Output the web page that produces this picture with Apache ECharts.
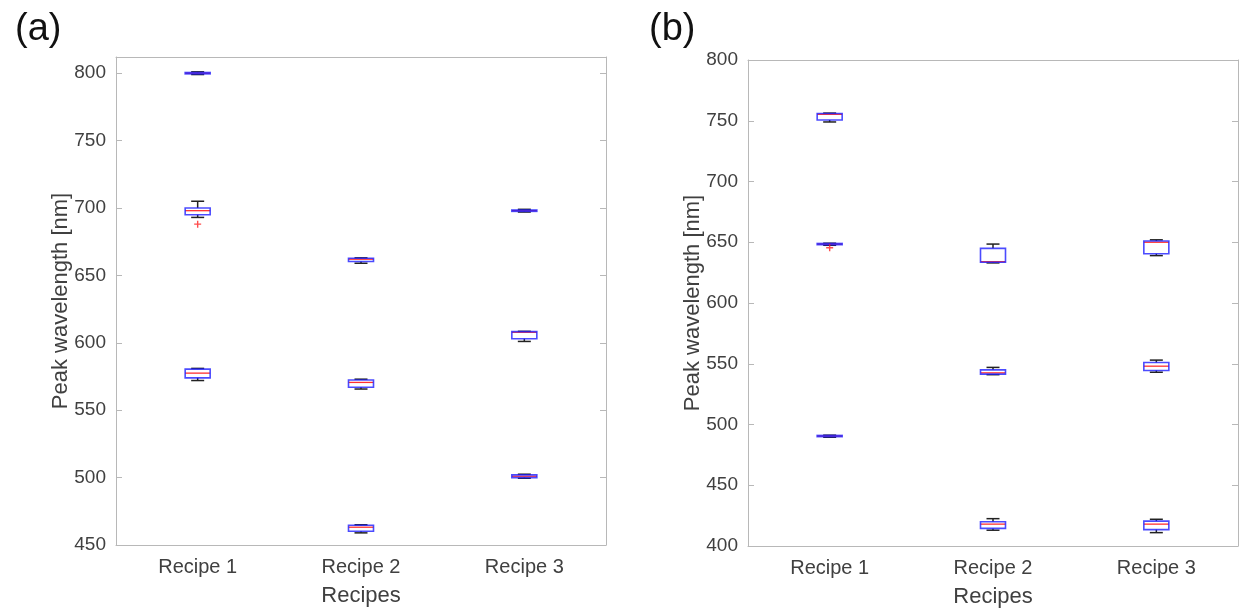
<!DOCTYPE html>
<html>
<head>
<meta charset="utf-8">
<script src="https://cdn.jsdelivr.net/npm/echarts@6/dist/echarts.min.js"></script>
<style>
  html, body { margin: 0; padding: 0; background: #fff; }
  #main { width: 1244px; height: 611px; }
</style>
</head>
<body>
<div id="main"></div>
<script>
// categories on the x axis
const categories = ['Recipe 1', 'Recipe 2', 'Recipe 3']

// panel (a): [category, min, q1, median, q3, max]
const boxesA = [
  [0, 799, 799.5, 800, 800.5, 801],
  [0, 693, 695, 698, 700, 705],
  [0, 572, 574, 577.5, 580.5, 581],
  [1, 659, 660.3, 662, 662.7, 663],
  [1, 565.7, 567, 570.6, 572.4, 573],
  [1, 459, 460.2, 463.2, 464.6, 465],
  [2, 697, 697.5, 698, 698.5, 699],
  [2, 601, 603, 607.8, 608.3, 608.5],
  [2, 499.5, 500, 501, 502, 502.5]
]
const outliersA = [[0, 688]]

// panel (b)
const boxesB = [
  [0, 749, 750.6, 755.3, 756, 756.3],
  [0, 647.5, 648, 648.5, 649, 649.2],
  [0, 489.5, 490, 490.5, 491, 491.2],
  [1, 633, 633.5, 634, 645, 648.5],
  [1, 541, 541.5, 542.5, 545, 547],
  [1, 413, 414.5, 418, 420, 422.5],
  [2, 639, 640.5, 650, 651, 652],
  [2, 543, 544.5, 548, 551, 553],
  [2, 411, 413.5, 418, 420.5, 422]
]
const outliersB = [[0, 645.5]]

const frameColor = '#b8b8b8'
const textColor = '#404040'
const font = 'Liberation Sans, Arial, sans-serif'

// draw one matlab-like box with the axes' own coords
function renderBox(params, api) {
  const x = api.value(0)
  const lo = api.coord([x, api.value(1)])
  const q1 = api.coord([x, api.value(2)])
  const med = api.coord([x, api.value(3)])
  const q3 = api.coord([x, api.value(4)])
  const hi = api.coord([x, api.value(5)])
  const cx = lo[0]
  const half = 12.5
  const cap = 6.5
  const black = { stroke: '#222', lineWidth: 1.5 }
  return {
    type: 'group',
    children: [
      { type: 'line', shape: { x1: cx, y1: hi[1], x2: cx, y2: q3[1] }, style: black },
      { type: 'line', shape: { x1: cx, y1: q1[1], x2: cx, y2: lo[1] }, style: black },
      { type: 'line', shape: { x1: cx - cap, y1: hi[1], x2: cx + cap, y2: hi[1] }, style: black },
      { type: 'line', shape: { x1: cx - cap, y1: lo[1], x2: cx + cap, y2: lo[1] }, style: black },
      {
        type: 'line',
        shape: { x1: cx - half, y1: med[1], x2: cx + half, y2: med[1] },
        style: { stroke: '#ff3030', lineWidth: 1.3 }
      },
      {
        type: 'rect',
        shape: { x: cx - half, y: q3[1], width: half * 2, height: Math.max(q1[1] - q3[1], 0.5) },
        style: { fill: 'rgba(255,255,255,0)', stroke: 'rgba(30,30,255,0.8)', lineWidth: 1.6 }
      }
    ]
  }
}

function xAxes(gridIndex) {
  return [
    {
      type: 'category',
      gridIndex: gridIndex,
      data: categories,
      name: 'Recipes',
      nameLocation: 'middle',
      nameGap: 40,
      nameTextStyle: { color: textColor, fontSize: 22, fontFamily: font },
      axisLine: { show: true, lineStyle: { color: frameColor } },
      axisTick: { inside: true, length: 6, alignWithLabel: true, lineStyle: { color: frameColor } },
      axisLabel: { color: textColor, fontSize: 20, fontFamily: font, margin: 12 },
      splitLine: { show: false }
    },
    {
      type: 'category',
      gridIndex: gridIndex,
      position: 'top',
      data: categories,
      axisLine: { show: true, lineStyle: { color: frameColor } },
      axisTick: { inside: true, length: 6, alignWithLabel: true, lineStyle: { color: frameColor } },
      axisLabel: { show: false },
      splitLine: { show: false }
    }
  ]
}

function yAxes(gridIndex, min, max) {
  const label = v => (v % 50 === 0 ? v : '')
  return [
    {
      type: 'value',
      gridIndex: gridIndex,
      min: min,
      max: max,
      interval: 50,
      name: 'Peak wavelength [nm]',
      nameLocation: 'middle',
      nameGap: 44,
      nameMoveOverlap: false,
      nameTextStyle: { color: textColor, fontSize: 22, fontFamily: font },
      axisLine: { show: true, lineStyle: { color: frameColor } },
      axisTick: { show: true, inside: true, length: 6, lineStyle: { color: frameColor } },
      axisLabel: { color: textColor, fontSize: 19, fontFamily: font, margin: 10, formatter: label },
      splitLine: { show: false }
    },
    {
      type: 'value',
      gridIndex: gridIndex,
      position: 'right',
      min: min,
      max: max,
      interval: 50,
      axisLine: { show: true, lineStyle: { color: frameColor } },
      axisTick: { show: true, inside: true, length: 6, lineStyle: { color: frameColor } },
      axisLabel: { show: false },
      splitLine: { show: false }
    }
  ]
}

const plusSymbol = 'path://M2,0H3V2H5V3H3V5H2V3H0V2H2Z'

const myChart = echarts.init(document.getElementById('main'))
myChart.setOption({
  animation: false,
  backgroundColor: '#fff',
  title: [
    { text: '(a)', left: 10, top: 6, textStyle: { fontSize: 38, fontWeight: 'normal', color: '#111', fontFamily: font } },
    { text: '(b)', left: 644, top: 6, textStyle: { fontSize: 38, fontWeight: 'normal', color: '#111', fontFamily: font } }
  ],
  grid: [
    { left: 116, top: 57, width: 490, height: 488, outerBoundsMode: 'none', containLabel: false },
    { left: 748, top: 60, width: 490, height: 486, outerBoundsMode: 'none', containLabel: false }
  ],
  xAxis: [...xAxes(0), ...xAxes(1)],
  yAxis: [...yAxes(0, 450, 812), ...yAxes(1, 400, 800)],
  series: [
    {
      type: 'custom',
      xAxisIndex: 0,
      yAxisIndex: 0,
      renderItem: renderBox,
      encode: { x: 0, y: [1, 2, 3, 4, 5] },
      data: boxesA
    },
    {
      type: 'scatter',
      xAxisIndex: 0,
      yAxisIndex: 0,
      symbol: plusSymbol,
      symbolSize: 7,
      itemStyle: { color: '#ff2020' },
      data: outliersA
    },
    {
      type: 'custom',
      xAxisIndex: 2,
      yAxisIndex: 2,
      renderItem: renderBox,
      encode: { x: 0, y: [1, 2, 3, 4, 5] },
      data: boxesB
    },
    {
      type: 'scatter',
      xAxisIndex: 2,
      yAxisIndex: 2,
      symbol: plusSymbol,
      symbolSize: 7,
      itemStyle: { color: '#ff2020' },
      data: outliersB
    }
  ]
})
</script>
</body>
</html>
